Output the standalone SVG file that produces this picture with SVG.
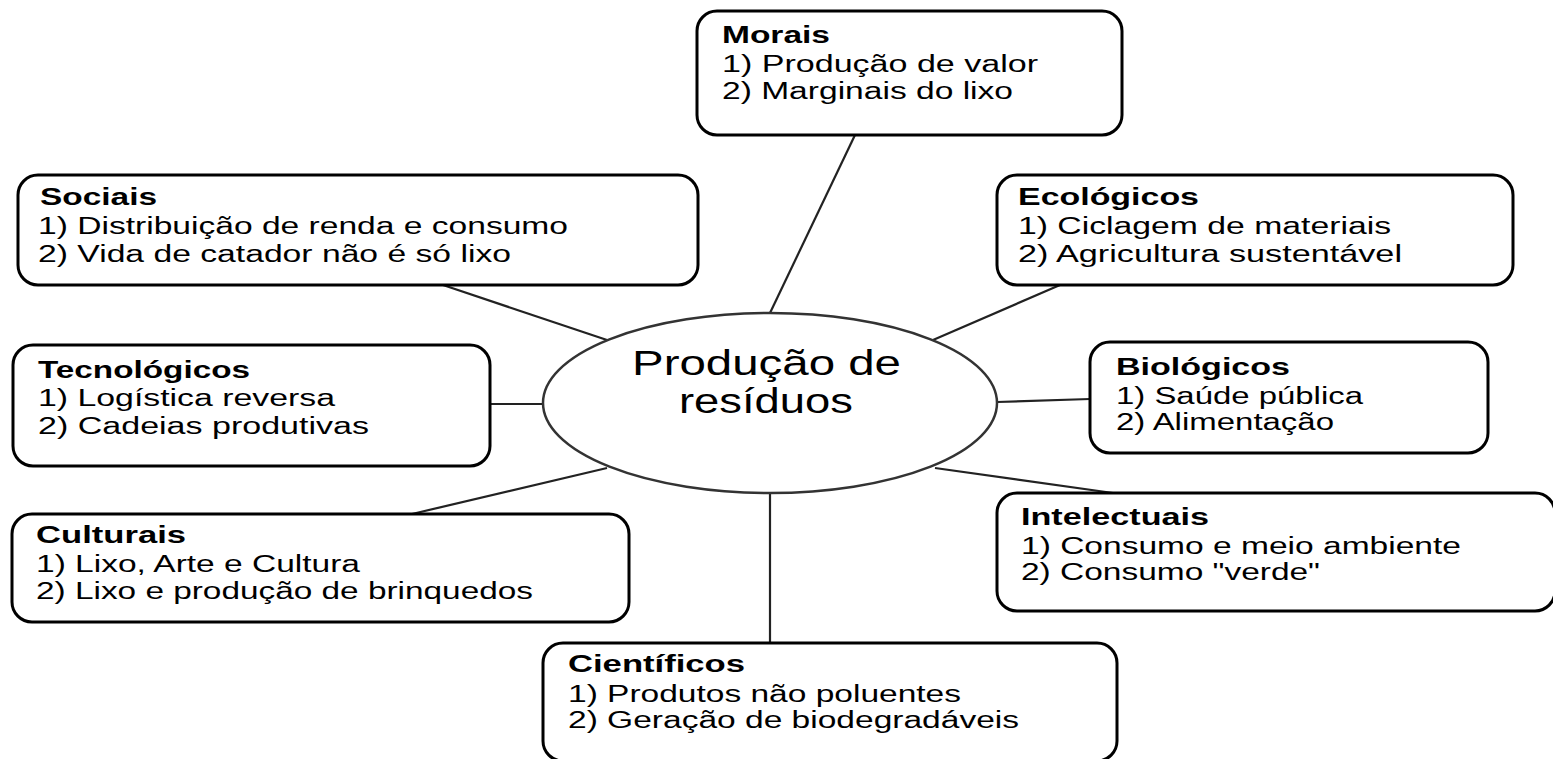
<svg xmlns="http://www.w3.org/2000/svg" width="1553" height="759" viewBox="0 0 1553 759">
<style>
.box{fill:#fff;stroke:#000;stroke-width:3}
.t{font-family:"Liberation Sans",Arial,sans-serif;font-size:23px;fill:#000}
.h{font-weight:bold}
.c{font-family:"Liberation Sans",Arial,sans-serif;font-size:35px;fill:#000}
.ln{stroke:#222;stroke-width:2.2;fill:none}
</style>
<rect width="1553" height="759" fill="#fff"/>
<g id="connectors">
<line class="ln" x1="855" y1="135" x2="770" y2="313"/>
<line class="ln" x1="443" y1="285" x2="607" y2="340"/>
<line class="ln" x1="1060" y1="285" x2="933" y2="340"/>
<line class="ln" x1="490" y1="404" x2="543" y2="404"/>
<line class="ln" x1="997" y1="402" x2="1090" y2="399"/>
<line class="ln" x1="607" y1="468" x2="412" y2="514"/>
<line class="ln" x1="935" y1="468" x2="1113" y2="493"/>
<line class="ln" x1="770" y1="493" x2="770" y2="643"/>
</g>
<g id="center">
<ellipse cx="770" cy="403" rx="227" ry="90" fill="#fff" stroke="#333" stroke-width="2.5"/>
<text class="c" x="632" y="375" textLength="269" lengthAdjust="spacingAndGlyphs">Produção  de</text>
<text class="c" x="679" y="413" textLength="174" lengthAdjust="spacingAndGlyphs">resíduos</text>
</g>
<g id="morais">
<rect class="box" x="697" y="11" width="425" height="124" rx="20"/>
<text class="t h" x="722" y="43" textLength="108" lengthAdjust="spacingAndGlyphs">Morais</text>
<text class="t" x="722" y="72" textLength="316" lengthAdjust="spacingAndGlyphs">1) Produção de valor</text>
<text class="t" x="722" y="99" textLength="291" lengthAdjust="spacingAndGlyphs">2) Marginais do lixo</text>
</g>
<g id="sociais">
<rect class="box" x="18" y="175" width="680" height="110" rx="20"/>
<text class="t h" x="40" y="205" textLength="117" lengthAdjust="spacingAndGlyphs">Sociais</text>
<text class="t" x="38" y="234" textLength="530" lengthAdjust="spacingAndGlyphs">1) Distribuição de renda e consumo</text>
<text class="t" x="38" y="262" textLength="473" lengthAdjust="spacingAndGlyphs">2) Vida de catador não é só lixo</text>
</g>
<g id="ecologicos">
<rect class="box" x="997" y="175" width="516" height="110" rx="20"/>
<text class="t h" x="1018" y="205" textLength="181" lengthAdjust="spacingAndGlyphs">Ecológicos</text>
<text class="t" x="1018" y="234" textLength="373" lengthAdjust="spacingAndGlyphs">1) Ciclagem de materiais</text>
<text class="t" x="1018" y="262" textLength="384" lengthAdjust="spacingAndGlyphs">2) Agricultura sustentável</text>
</g>
<g id="tecnologicos">
<rect class="box" x="13" y="345" width="477" height="121" rx="20"/>
<text class="t h" x="38" y="378" textLength="212" lengthAdjust="spacingAndGlyphs">Tecnológicos</text>
<text class="t" x="38" y="406" textLength="297" lengthAdjust="spacingAndGlyphs">1) Logística reversa</text>
<text class="t" x="38" y="434" textLength="331" lengthAdjust="spacingAndGlyphs">2) Cadeias produtivas</text>
</g>
<g id="biologicos">
<rect class="box" x="1090" y="342" width="398" height="111" rx="20"/>
<text class="t h" x="1116" y="375" textLength="174" lengthAdjust="spacingAndGlyphs">Biológicos</text>
<text class="t" x="1116" y="404" textLength="247" lengthAdjust="spacingAndGlyphs">1) Saúde pública</text>
<text class="t" x="1116" y="430" textLength="218" lengthAdjust="spacingAndGlyphs">2) Alimentação</text>
</g>
<g id="culturais">
<rect class="box" x="12" y="514" width="617" height="108" rx="20"/>
<text class="t h" x="36" y="543" textLength="150" lengthAdjust="spacingAndGlyphs">Culturais</text>
<text class="t" x="36" y="572" textLength="324" lengthAdjust="spacingAndGlyphs">1) Lixo, Arte e Cultura</text>
<text class="t" x="36" y="599" textLength="497" lengthAdjust="spacingAndGlyphs">2) Lixo e produção de brinquedos</text>
</g>
<g id="intelectuais">
<rect class="box" x="997" y="493" width="558" height="118" rx="20"/>
<text class="t h" x="1021" y="525" textLength="188" lengthAdjust="spacingAndGlyphs">Intelectuais</text>
<text class="t" x="1021" y="554" textLength="440" lengthAdjust="spacingAndGlyphs">1) Consumo e meio ambiente</text>
<text class="t" x="1021" y="580" textLength="299" lengthAdjust="spacingAndGlyphs">2) Consumo "verde"</text>
</g>
<g id="cientificos">
<rect class="box" x="543" y="643" width="574" height="118" rx="20"/>
<text class="t h" x="568" y="672" textLength="177" lengthAdjust="spacingAndGlyphs">Científicos</text>
<text class="t" x="568" y="702" textLength="393" lengthAdjust="spacingAndGlyphs">1) Produtos não poluentes</text>
<text class="t" x="568" y="728" textLength="451" lengthAdjust="spacingAndGlyphs">2) Geração de biodegradáveis</text>
</g>
</svg>
